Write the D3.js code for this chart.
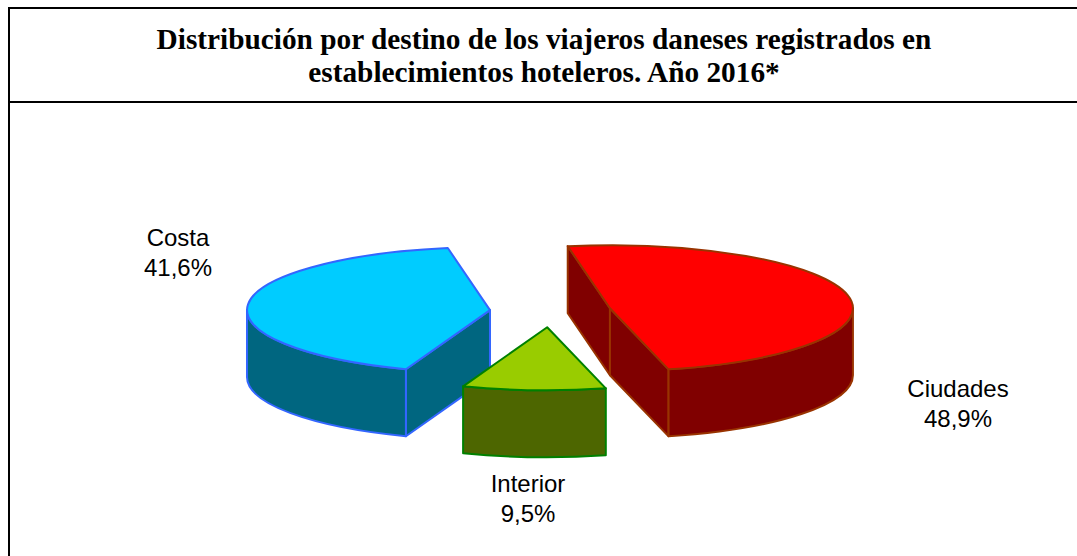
<!DOCTYPE html>
<html>
<head>
<meta charset="utf-8">
<script src="https://cdn.jsdelivr.net/npm/d3@7"></script>
<style>
    html, body { margin: 0; padding: 0; background: #fff; }
    svg { display: block; }
</style>
</head>
<body>
<div id="chart"></div>
<script>
const titleLines = [
    'Distribución por destino de los viajeros daneses registrados en',
    'establecimientos hoteleros. Año 2016*'
];
const categories = ['Ciudades', 'Interior', 'Costa'];
const shares = [48.9, 9.5, 41.6];
const shareLabels = ['48,9%', '9,5%', '41,6%'];
const topColors = ['#ff0000', '#99cc00', '#00ccff'];
const sideColors = ['#800000', '#4d6600', '#006680'];
const edgeColors = ['#993300', '#008000', '#3366ff'];
const labelAnchors = [[958, 397], [528, 492], [178, 246]];

const width = 1077;
const height = 556;
const cx = 550.5;
const cy = 311.5;
const rx = 243;
const ry = 63;
const depth = 67;
const explode = 0.25;
const startDeg = -10;

const svg = d3.select('#chart')
    .append('svg')
    .attr('width', width)
    .attr('height', height);

// frame, open on the right and at the bottom
svg.append('path')
    .attr('d', 'M9,556V8H1077M9,102H1077')
    .attr('fill', 'none')
    .attr('stroke', '#000')
    .attr('stroke-width', 2);

svg.selectAll('.title')
    .data(titleLines)
    .enter()
    .append('text')
    .attr('class', 'title')
    .attr('x', 544)
    .attr('y', (d, i) => 48.5 + i * 33)
    .attr('text-anchor', 'middle')
    .attr('font-family', '"Liberation Serif", serif')
    .attr('font-weight', 'bold')
    .attr('font-size', 29.3)
    .text(d => d);

const rad = Math.PI / 180;
const pie = d3.pie()
    .sort(null)
    .startAngle(startDeg * rad)
    .endAngle((startDeg + 360) * rad);

const slices = pie(shares).map((s, i) => {
    const mid = (s.startAngle + s.endAngle) / 2;
    return {
        ...s,
        i,
        ox: cx + Math.sin(mid) * explode * rx,
        oy: cy - Math.cos(mid) * explode * ry
    };
});

// angle clockwise from the top of the ellipse
const rimPoint = (s, a, dz = 0) => [s.ox + Math.sin(a) * rx, s.oy - Math.cos(a) * ry + dz];

function topPath(s) {
    const p0 = rimPoint(s, s.startAngle);
    const p1 = rimPoint(s, s.endAngle);
    const large = s.endAngle - s.startAngle > Math.PI ? 1 : 0;
    return `M${s.ox},${s.oy}L${p0}A${rx},${ry} 0 ${large} 1 ${p1}Z`;
}

function cutPath(s, a) {
    const p = rimPoint(s, a);
    const q = rimPoint(s, a, depth);
    return `M${s.ox},${s.oy}L${p}L${q}L${s.ox},${s.oy + depth}Z`;
}

// outer wall, only the part between 90 and 270 degrees faces the viewer
function rimPath(s) {
    const a0 = Math.max(s.startAngle, Math.PI / 2);
    const a1 = Math.min(s.endAngle, 3 * Math.PI / 2);
    if (a1 <= a0) return null;
    const p0 = rimPoint(s, a0);
    const p1 = rimPoint(s, a1);
    const q0 = rimPoint(s, a0, depth);
    const q1 = rimPoint(s, a1, depth);
    return `M${p0}A${rx},${ry} 0 0 1 ${p1}L${q1}A${rx},${ry} 0 0 0 ${q0}Z`;
}

// back to front
const drawOrder = [2, 1, 0];

drawOrder.forEach(i => {
    const s = slices[i];
    const g = svg.append('g')
        .attr('class', 'slice')
        .attr('stroke', edgeColors[i])
        .attr('stroke-width', 2)
        .attr('stroke-linejoin', 'round');

    if (Math.sin(s.startAngle) < 0) {
        g.append('path').attr('d', cutPath(s, s.startAngle)).attr('fill', sideColors[i]);
    }
    if (Math.sin(s.endAngle) > 0) {
        g.append('path').attr('d', cutPath(s, s.endAngle)).attr('fill', sideColors[i]);
    }
    const rim = rimPath(s);
    if (rim) g.append('path').attr('d', rim).attr('fill', sideColors[i]);
    g.append('path').attr('d', topPath(s)).attr('fill', topColors[i]);
});

const labels = svg.selectAll('.label')
    .data(categories)
    .enter()
    .append('text')
    .attr('class', 'label')
    .attr('text-anchor', 'middle')
    .attr('font-family', '"Liberation Sans", Arial, sans-serif')
    .attr('font-size', 24)
    .attr('fill', '#000');

labels.append('tspan')
    .attr('x', (d, i) => labelAnchors[i][0])
    .attr('y', (d, i) => labelAnchors[i][1])
    .text(d => d);

labels.append('tspan')
    .attr('x', (d, i) => labelAnchors[i][0])
    .attr('y', (d, i) => labelAnchors[i][1] + 30)
    .text((d, i) => shareLabels[i]);
</script>
</body>
</html>
